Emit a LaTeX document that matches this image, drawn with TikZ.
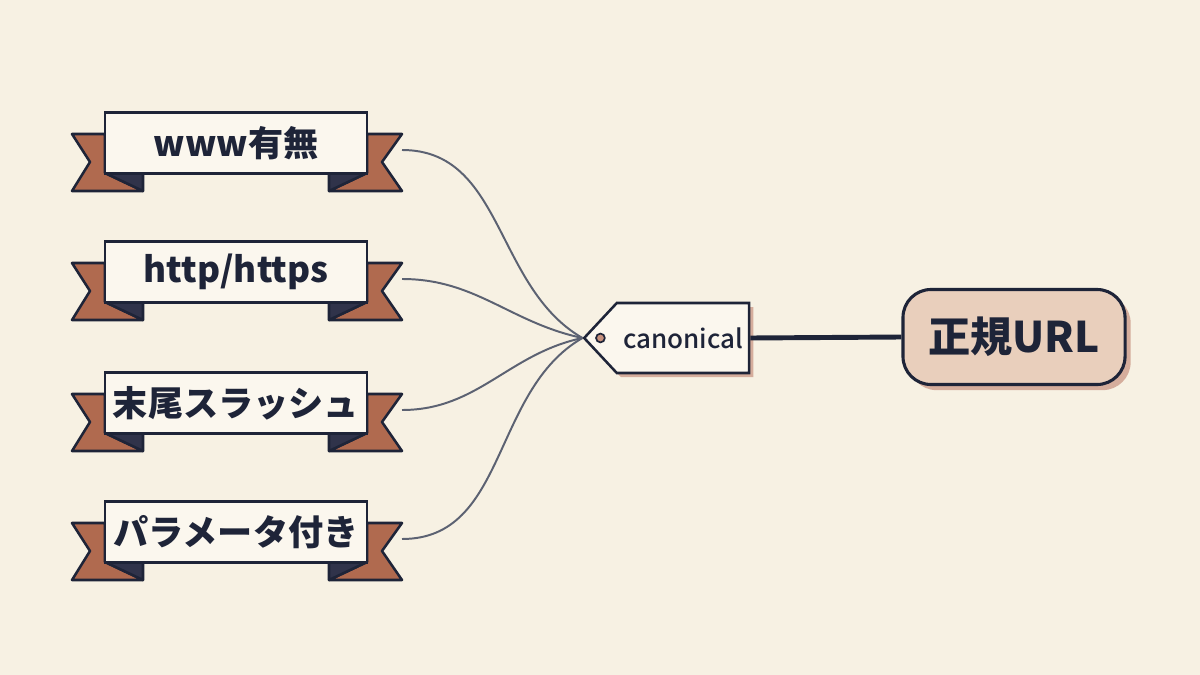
\documentclass[tikz,border=0pt]{standalone}
\usepackage{fontspec}
\setmainfont{Noto Sans CJK JP}
\newfontfamily\tagfont{Noto Sans CJK JP Medium}
\usepackage{tikz}
\usetikzlibrary{calc, positioning, shapes.symbols, shadows}

\definecolor{paper}{HTML}{F7F1E3}
\definecolor{ink}{HTML}{1E2438}
\definecolor{rust}{HTML}{B06A4F}
\definecolor{fold}{HTML}{30334A}
\definecolor{wire}{HTML}{5C6272}
\definecolor{peach}{HTML}{E9CFBC}
\definecolor{blush}{HTML}{C7917E}
\definecolor{card}{HTML}{FBF7EE}

% ribbon banner: name, centre, text
\newcommand{\banner}[3]{%
  \begin{scope}[shift={#2}]
    \filldraw[tail] (-164,-9) -- (-131,-9) -- (-131,30) -- (-93,48) -- (-164,48) -- (-146,19) -- cycle;
    \filldraw[flap] (-131,30) -- (-93,30) -- (-93,48) -- cycle;
    \filldraw[tail] (166,-9) -- (131,-9) -- (131,30) -- (93,48) -- (166,48) -- (146,19) -- cycle;
    \filldraw[flap] (131,30) -- (93,30) -- (93,48) -- cycle;
    \coordinate (#1-end) at (166,7);
  \end{scope}
  \node[ribbon] (#1) at #2 {#3};
}

\begin{document}
\begin{tikzpicture}[
    x=0.025cm, y=-0.025cm,
    ribbon/.style={rectangle, draw=ink, fill=card, line width=2pt, minimum width=6.55cm, minimum height=1.52cm, font=\fontsize{25}{30}\selectfont\bfseries, text=ink},
    tail/.style={fill=rust, draw=ink, line width=1.8pt, line join=round},
    flap/.style={fill=fold, draw=ink, line width=1.8pt, line join=round},
    tag/.style={signal, signal to=west, signal pointer angle=94, draw=ink, fill=card, line width=1.8pt, minimum width=4.125cm, minimum height=1.75cm, inner sep=0pt, font=\tagfont\fontsize{18.5}{22}\selectfont, text=ink, drop shadow={shadow xshift=3pt, shadow yshift=-3pt, fill=blush, opacity=0.7}},
    hole/.style={circle, draw=ink, fill=blush, line width=1.2pt, minimum size=0.22cm, inner sep=0pt},
    goal/.style={rectangle, rounded corners=0.7cm, draw=ink, fill=peach, line width=2.2pt, minimum width=5.55cm, minimum height=2.375cm, font=\fontsize{30}{36}\selectfont\bfseries, text=ink, drop shadow={shadow xshift=4pt, shadow yshift=-4pt, fill=blush, opacity=0.7}},
    wire/.style={draw=wire, line width=1.4pt},
    link/.style={draw=ink, line width=3.5pt}]

    \fill[paper] (0,0) rectangle (1200,675);
    \useasboundingbox (0,0) rectangle (1200,675);

    \banner{www}{(236,143)}{www有無}
    \banner{scheme}{(236,272)}{http/https}
    \banner{slash}{(236,403)}{末尾スラッシュ}
    \banner{param}{(236,532)}{パラメータ付き}

    \node[tag] (tag) at (683,338) {canonical};
    \node[hole] (hole) at ($(tag.west)+(18,0)$) {};

    \node[goal] (goal) at (1014,337) {正規URL};

    \draw[wire] (www-end) to[out=0, in=150] (tag.west);
    \draw[wire] (scheme-end) to[out=0, in=168] (tag.west);
    \draw[wire] (slash-end) to[out=0, in=192] (tag.west);
    \draw[wire] (param-end) to[out=0, in=210] (tag.west);

    \draw[link] (tag.east) -- (goal.west);
\end{tikzpicture}
\end{document}
